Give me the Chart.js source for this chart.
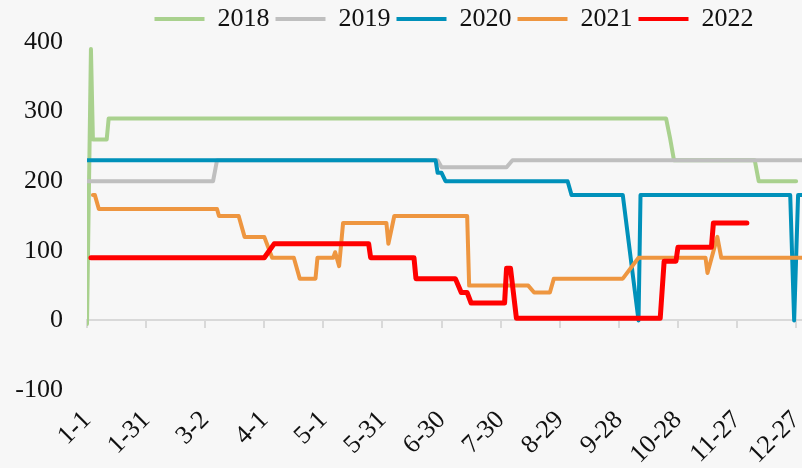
<!DOCTYPE html>
<html><head><meta charset="utf-8">
<script src="https://cdn.jsdelivr.net/npm/chart.js@4.4.1/dist/chart.umd.min.js"></script>
<style>
html,body{margin:0;padding:0;background:#f7f7f7;overflow:hidden;}
#wrap{position:relative;width:804px;height:468px;}
</style></head><body>
<div id="wrap"><canvas id="c"></canvas></div>
<script>
// ---- data (day-of-year index, value) ----
const seriesNames = ['2018', '2019', '2020', '2021', '2022'];
const xTickLabels = ['1-1','1-31','3-2','4-1','5-1','5-31','6-30','7-30','8-29','9-28','10-28','11-27','12-27'];
const yMin = -100, yMax = 400, yStep = 100;
const dayMax = 364, dayStep = 30;

const days2018 = [0, 2, 3, 10, 11, 294, 296, 298, 339, 341, 360];
const vals2018 = [-5, 390, 260, 260, 290, 290, 262, 230, 230, 200, 200];

const days2019 = [0, 64, 66, 178, 180, 213, 216, 364];
const vals2019 = [200, 200, 230, 230, 220, 220, 230, 230];

const days2020 = [0, 177, 178, 180, 182, 244, 246, 272, 280, 281, 357, 359, 361, 364];
const vals2020 = [230, 230, 212, 212, 200, 200, 180, 180, 0, 180, 180, 0, 180, 180];

const days2021 = [3, 4, 6, 66, 67, 77, 80, 90, 94, 105, 108, 116, 117, 125, 126, 128, 130, 152, 153, 156, 193, 194, 224, 227, 235, 237, 272, 280, 314, 315, 320, 322, 364];
const vals2021 = [180, 180, 160, 160, 150, 150, 120, 120, 90, 90, 60, 60, 90, 90, 98, 78, 140, 140, 110, 150, 150, 50, 50, 40, 40, 60, 60, 90, 90, 68, 120, 90, 90];

const days2022 = [2, 90, 95, 143, 144, 166, 167, 187, 190, 193, 195, 212, 213, 215, 218, 291, 293, 299, 300, 317, 318, 335];
const vals2022 = [90, 90, 110, 110, 90, 90, 60, 60, 40, 40, 25, 25, 75, 75, 3, 3, 85, 85, 105, 105, 140, 140];

const seriesDays = [days2018, days2019, days2020, days2021, days2022];
const seriesVals = [vals2018, vals2019, vals2020, vals2021, vals2022];
const seriesColors = ['#A9D18E', '#BFBFBF', '#0091BA', '#EE9640', '#FF0000'];
const seriesWidths = [4, 4, 4, 4, 5];

const FONT = "'Liberation Serif', 'Times New Roman', serif";

const datasets = seriesNames.map((name, i) => ({
  label: name,
  data: seriesDays[i].map((d, j) => ({x: d, y: seriesVals[i][j]})),
  borderColor: seriesColors[i],
  backgroundColor: seriesColors[i],
  borderWidth: seriesWidths[i],
  pointRadius: 0,
  tension: 0,
  fill: false,
  borderJoinStyle: 'round',
  borderCapStyle: 'round',
  order: seriesNames.length - 1 - i
}));

const legendShift = {
  id: 'legendShift',
  afterLayout(chart) {
    const lg = chart.legend;
    if (lg) { lg.left += 52; lg.right += 52; }
  }
};

new Chart(document.getElementById('c'), {
  type: 'line',
  data: { datasets },
  plugins: [legendShift],
  options: {
    responsive: true,
    maintainAspectRatio: false,
    animation: false,
    layout: { padding: { top: 0, left: 0, right: 0, bottom: 0 } },
    plugins: {
      tooltip: { enabled: false },
      legend: {
        position: 'top',
        labels: {
          font: { family: FONT, size: 26 },
          color: '#111',
          boxWidth: 50,
          boxHeight: 4,
          padding: 6,
          sort: (a, b) => a.datasetIndex - b.datasetIndex,
          generateLabels(chart) {
            const items = Chart.defaults.plugins.legend.labels.generateLabels(chart);
            items.forEach(it => { it.lineWidth = 0; it.fillStyle = it.strokeStyle; });
            return items;
          }
        }
      }
    },
    scales: {
      x: {
        type: 'linear',
        position: 'bottom',
        min: 0, max: dayMax,
        grid: { display: false, drawTicks: false },
        border: { display: false },
        ticks: {
          stepSize: dayStep,
          includeBounds: false,
          autoSkip: false,
          minRotation: 45, maxRotation: 45,
          padding: 15,
          color: '#111',
          font: { family: FONT, size: 26 },
          callback: (v) => xTickLabels[Math.round(v / dayStep)]
        },
        afterFit(scale) { scale.height = 78; scale.paddingLeft = 0; scale.paddingRight = 0; }
      },
      x2: {
        type: 'linear',
        axis: 'x',
        position: { y: 0 },
        min: 0, max: dayMax,
        ticks: { display: false, stepSize: dayStep, includeBounds: false },
        grid: { drawOnChartArea: false, drawTicks: true, tickLength: 7, color: '#D9D9D9', lineWidth: 2 },
        border: { display: true, color: '#D9D9D9', width: 2 },
        afterFit(scale) { scale.paddingLeft = 0; scale.paddingRight = 0; }
      },
      y: {
        type: 'linear',
        min: yMin, max: yMax,
        grid: { display: false, drawTicks: false },
        border: { display: false },
        ticks: {
          stepSize: yStep,
          padding: 24,
          color: '#111',
          font: { family: FONT, size: 26 }
        },
        afterFit(scale) { scale.width = 87; scale.paddingTop = 0; scale.paddingBottom = 0; }
      }
    }
  }
});
</script>
</body></html>
